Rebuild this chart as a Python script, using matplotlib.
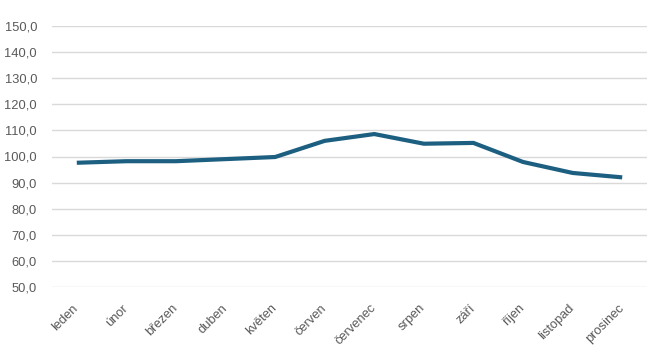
import matplotlib

matplotlib.use("Agg")
import matplotlib.pyplot as plt
import matplotlib.transforms as mtransforms
from matplotlib.ticker import FuncFormatter, MultipleLocator

months = [
    "leden",
    "únor",
    "březen",
    "duben",
    "květen",
    "červen",
    "červenec",
    "srpen",
    "září",
    "říjen",
    "listopad",
    "prosinec",
]
values = [97.6, 98.2, 98.2, 99.0, 99.8, 106.0, 108.6, 104.9, 105.2, 97.9, 93.7, 92.0]

y_min, y_max, y_step = 50, 150, 10

# Liberation Sans has about the same widths as the office font in the original
plt.rcParams["font.family"] = ["Liberation Sans", "DejaVu Sans"]

line_color = "#1d5f80"
text_color = "#595959"
grid_color = "#d9d9d9"

fig = plt.figure(figsize=(6.63, 3.55), dpi=100)
ax = fig.add_axes([52 / 663, 1 - 287 / 355, 595 / 663, 261 / 355])

x = list(range(len(months)))
ax.plot(x, values, color=line_color, linewidth=3.0, solid_joinstyle="round",
        solid_capstyle="butt")

ax.set_xlim(-0.5, len(months) - 0.5)
ax.set_ylim(y_min, y_max)
ax.yaxis.set_major_locator(MultipleLocator(y_step))
ax.yaxis.set_major_formatter(FuncFormatter(lambda v, _: f"{v:.1f}".replace(".", ",")))
ax.grid(axis="y", color=grid_color, linewidth=1.0)
ax.set_axisbelow(True)

for s in ax.spines.values():
    s.set_visible(False)
ax.tick_params(axis="both", length=0, colors=text_color, labelsize=9.3)
ax.tick_params(axis="y", pad=10.8)
ax.tick_params(axis="x", pad=0)

ax.set_xticks(x)
ax.set_xticklabels(months, rotation=45, ha="right", va="top")
# push rotated labels so their top-right corner sits just right of the tick
offset = mtransforms.ScaledTranslation(4 / 100, -15 / 100, fig.dpi_scale_trans)
for lbl in ax.get_xticklabels():
    lbl.set_transform(lbl.get_transform() + offset)

fig.savefig("out.png", dpi=100)
